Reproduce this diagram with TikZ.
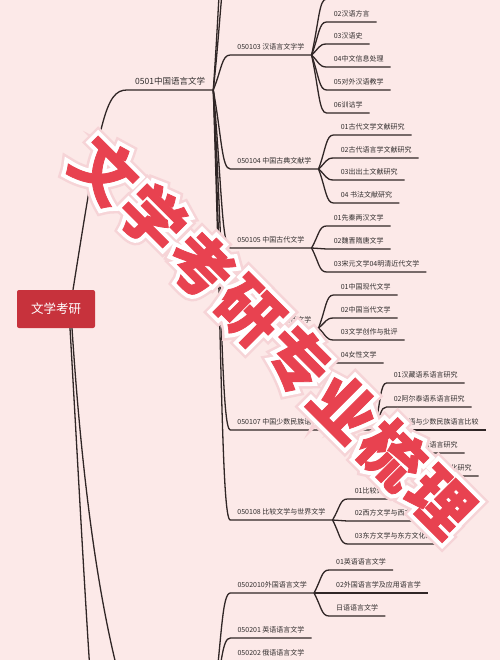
\documentclass[tikz,border=0pt]{standalone}
\usepackage{fontspec}
\newfontfamily\cjk{Noto Sans CJK SC}
\newfontfamily\wmglowfont{Noto Sans CJK SC}[BoldFeatures={FakeBold=22}]
\newfontfamily\wmhalofont{Noto Sans CJK SC}[BoldFeatures={FakeBold=14}]
\newfontfamily\wmredfont{Noto Sans CJK SC}[BoldFeatures={FakeBold=1.2}]
\usetikzlibrary{calc}
\definecolor{bg}{RGB}{252,233,232}
\definecolor{rootred}{RGB}{199,50,60}
\definecolor{wmred}{RGB}{232,66,80}
\definecolor{wmglow}{RGB}{246,212,215}
\definecolor{linec}{RGB}{48,38,38}
\definecolor{txt}{RGB}{50,46,46}
\newcommand\mmlink[2]{\draw[link] let \p1=(#1.south east), \p2=(#2.south west) in (\p1) .. controls ({\x1+0.5*(\x2-\x1)},{\y1+0.6*(\y2-\y1)}) and ({\x2-0.5*(\x2-\x1)},\y2) .. (\p2) -- (#2.south east);}
\tikzset{
  link/.style={draw=linec, line width=1.3pt},
  lvone/.style={anchor=south west, font=\cjk\fontsize{8.5}{10}\selectfont, text=txt, inner xsep=8pt, inner ysep=3.5pt, text height=7.3pt, text depth=1.8pt},
  lvtwo/.style={anchor=south west, font=\cjk\fontsize{7}{8}\selectfont, text=txt, inner xsep=7pt, inner ysep=3.5pt, text height=6pt, text depth=1.5pt},
  lvthree/.style={lvtwo},
  ghost/.style={anchor=south west, minimum width=#1, minimum height=0pt, inner sep=0pt},
  rootbox/.style={fill=rootred, rounded corners=2pt, minimum width=78pt, minimum height=38pt, text=white, font=\cjk\fontsize{12.5}{14}\selectfont, inner sep=0pt},
  wm/.style={rotate=-45, inner sep=0pt},
}
\begin{document}
\begin{tikzpicture}[x=1pt,y=-1pt]
\useasboundingbox (0,0) rectangle (500,660);
\clip (0,0) rectangle (500,660);
\fill[bg] (0,0) rectangle (500,660);

% root and level 1
\node[rootbox] (root) at (56,309) {文学考研};
\node[lvone] (n0501) at (127,90) {0501中国语言文学};
\node[ghost=86pt] (g0502) at (127,705) {};
\coordinate (g0503) at (100,800);

\draw[link] ([xshift=17pt]root.north) .. controls +(27,-170) and +(-22,0) .. (n0501.south west) -- (n0501.south east);
\draw[link] ([xshift=16pt]root.south) .. controls (80,450) and (95,600) .. (g0502.south west) -- (g0502.south east);
\draw[link] ([xshift=14pt]root.south) .. controls (80,500) and (90,700) .. (g0503);

% level 2 under 0501
\path (n0501.south east) ++(17,0) coordinate (h0501);
\node[ghost=70pt] (n050101) at (h0501 |- 0,-110) {};
\node[ghost=70pt] (n050102) at (h0501 |- 0,-40) {};
\node[lvtwo] (n050103) at (h0501 |- 0,55) {050103 汉语言文字学};
\node[lvtwo] (n050104) at (h0501 |- 0,169) {050104 中国古典文献学};
\node[lvtwo] (n050105) at (h0501 |- 0,248) {050105 中国古代文学};
\node[lvtwo] (n050106) at (h0501 |- 0,328) {050106 中国现当代文学};
\node[lvtwo] (n050107) at (h0501 |- 0,430) {050107 中国少数民族语言文学（分语族）};
\node[lvtwo] (n050108) at (h0501 |- 0,520) {050108 比较文学与世界文学};
\foreach \c in {n050101,n050102,n050103,n050104,n050105,n050106,n050107,n050108}
  {\mmlink{n0501}{\c}}

% 050103
\path (n050103.south east) ++(15,0) coordinate (h050103);
\node[ghost=55pt] (a1) at (h050103 |- 0,-1) {};
\node[lvthree] (a2) at (h050103 |- 0,22) {02汉语方言};
\node[lvthree] (a3) at (h050103 |- 0,44) {03汉语史};
\node[lvthree] (a4) at (h050103 |- 0,67) {04中文信息处理};
\node[lvthree] (a5) at (h050103 |- 0,90) {05对外汉语教学};
\node[lvthree] (a6) at (h050103 |- 0,113) {06训诂学};
\foreach \c in {a1,a2,a3,a4,a5,a6} {\mmlink{n050103}{\c}}

% 050104
\path (n050104.south east) ++(15,0) coordinate (h050104);
\node[lvthree] (b1) at (h050104 |- 0,135) {01古代文学文献研究};
\node[lvthree] (b2) at (h050104 |- 0,158) {02古代语言学文献研究};
\node[lvthree] (b3) at (h050104 |- 0,180) {03出出土文献研究};
\node[lvthree] (b4) at (h050104 |- 0,203) {04 书法文献研究};
\foreach \c in {b1,b2,b3,b4} {\mmlink{n050104}{\c}}

% 050105
\path (n050105.south east) ++(15,0) coordinate (h050105);
\node[lvthree] (c1) at (h050105 |- 0,226) {01先秦两汉文学};
\node[lvthree] (c2) at (h050105 |- 0,249) {02魏晋隋唐文学};
\node[lvthree] (c3) at (h050105 |- 0,272) {03宋元文学04明清近代文学};
\foreach \c in {c1,c2,c3} {\mmlink{n050105}{\c}}

% 050106
\path (n050106.south east) ++(15,0) coordinate (h050106);
\node[lvthree] (d1) at (h050106 |- 0,295) {01中国现代文学};
\node[lvthree] (d2) at (h050106 |- 0,318) {02中国当代文学};
\node[lvthree] (d3) at (h050106 |- 0,340) {03文学创作与批评};
\node[lvthree] (d4) at (h050106 |- 0,363) {04女性文学};
\foreach \c in {d1,d2,d3,d4} {\mmlink{n050106}{\c}}

% 050107
\path (n050107.south east) ++(12,0) coordinate (h050107);
\node[lvthree] (e1) at (h050107 |- 0,383) {01汉藏语系语言研究};
\node[lvthree] (e2) at (h050107 |- 0,407) {02阿尔泰语系语言研究};
\node[lvthree] (e3) at (h050107 |- 0,430) {03汉语与少数民族语言比较};
\node[lvthree] (e4) at (h050107 |- 0,453) {04民族文献语言研究};
\node[lvthree] (e5) at (h050107 |- 0,476) {05少数民族语言文化研究};
\foreach \c in {e1,e2,e3,e4,e5} {\mmlink{n050107}{\c}}

% 050108
\path (n050108.south east) ++(15,0) coordinate (h050108);
\node[lvthree] (f1) at (h050108 |- 0,499) {01比较诗学};
\node[lvthree] (f2) at (h050108 |- 0,521) {02西方文学与西方文论};
\node[lvthree] (f3) at (h050108 |- 0,544) {03东方文学与东方文化研究};
\foreach \c in {f1,f2,f3} {\mmlink{n050108}{\c}}

% 0502 group
\path (g0502.south east) ++(17,0) coordinate (h0502);
\node[lvtwo] (n0502010) at (h0502 |- 0,593) {0502010外国语言文学};
\node[lvtwo] (n050201) at (h0502 |- 0,638) {050201 英语语言文学};
\node[lvtwo] (n050202) at (h0502 |- 0,661) {050202 俄语语言文学};
\foreach \c in {n0502010,n050201,n050202} {\mmlink{g0502}{\c}}

\path (n0502010.south east) ++(15,0) coordinate (h0502010);
\node[lvthree] (g1) at (h0502010 |- 0,570) {01英语语言文学};
\node[lvthree] (g2) at (h0502010 |- 0,593) {02外国语言学及应用语言学};
\node[lvthree] (g3) at (h0502010 |- 0,616) {日语语言文学};
\foreach \c in {g1,g2,g3} {\mmlink{n0502010}{\c}}

% watermark: glow, white halo, red letters
\foreach \ch [count=\i from 0] in {文,学,考,研,专,业,梳,理} {
  \coordinate (wc\i) at ({105+47.9*\i},{170+47.4*\i});
  \node[wm, font=\wmglowfont\bfseries\fontsize{63}{63}\selectfont, text=wmglow] (wg\i) at (wc\i) {\ch};
}
\foreach \ch [count=\i from 0] in {文,学,考,研,专,业,梳,理} {
  \node[wm, font=\wmhalofont\bfseries\fontsize{63}{63}\selectfont, text=white] (wh\i) at (wc\i) {\ch};
}
\foreach \ch [count=\i from 0] in {文,学,考,研,专,业,梳,理} {
  \node[wm, font=\wmredfont\bfseries\fontsize{63}{63}\selectfont, text=wmred] (wm\i) at (wc\i) {\ch};
}
\end{tikzpicture}
\end{document}
